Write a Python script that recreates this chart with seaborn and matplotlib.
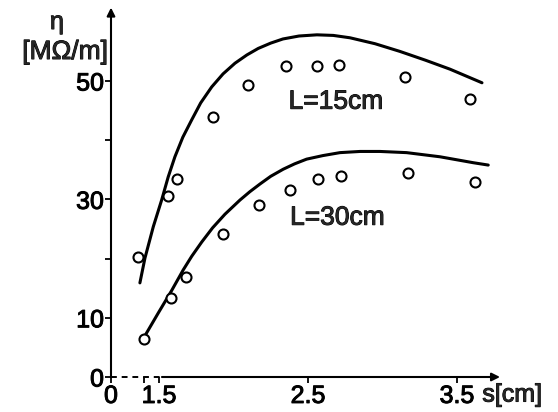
import numpy as np
import pandas as pd
import matplotlib.pyplot as plt
import matplotlib.patheffects as pe
import seaborn as sns

s_15 = [1.36, 1.56, 1.62, 1.86, 2.10, 2.35, 2.56, 2.71, 3.15, 3.59]
eta_15 = [20.2, 30.5, 33.4, 44.0, 49.4, 52.5, 52.5, 52.7, 50.7, 47.0]
s_30 = [1.40, 1.58, 1.68, 1.93, 2.17, 2.38, 2.57, 2.72, 3.17, 3.62]
eta_30 = [6.4, 13.3, 16.9, 24.1, 29.1, 31.6, 33.4, 34.0, 34.4, 33.0]

# calculated curves
curve_s_15 = [1.372, 1.406, 1.462, 1.518, 1.562, 1.607, 1.66, 1.719, 1.78, 1.854,
              1.93, 2.010, 2.09, 2.166, 2.25, 2.332, 2.44, 2.560, 2.67, 2.782,
              2.95, 3.117, 3.29, 3.453, 3.668]
curve_eta_15 = [15.9, 20.1, 25.4, 29.9, 33.8, 37.2, 40.5, 43.4, 46.3, 49.0,
                51.2, 53.0, 54.4, 55.5, 56.4, 57.1, 57.6, 57.8, 57.7, 57.3,
                56.3, 55.0, 53.5, 52.0, 49.7]
curve_s_30 = [1.395, 1.495, 1.585, 1.663, 1.72, 1.787, 1.86, 1.943, 2.044, 2.11,
              2.178, 2.25, 2.334, 2.41, 2.491, 2.60, 2.715, 2.85, 2.983, 3.162,
              3.386, 3.609, 3.710]
curve_eta_30 = [6.5, 10.8, 14.6, 18.1, 20.4, 22.8, 25.2, 27.5, 29.9, 31.3,
                32.6, 33.9, 35.1, 36.0, 36.8, 37.4, 37.9, 38.1, 38.1, 37.9,
                37.2, 36.2, 35.8]

x_ticks = [1.178, 1.4, 1.5, 2.5, 3.5]
x_labels = ['0', '', '1.5', '2.5', '3.5']
y_ticks = [0, 10, 20, 30, 40, 50]
y_labels = ['0', '10', '', '30', '', '50']

sns.set_style("white")
plt.rcParams['font.family'] = ['Liberation Sans', 'DejaVu Sans']

# slightly heavier text, like the printed original
thick = [pe.withStroke(linewidth=0.7, foreground='black')]

fig = plt.figure(figsize=(5.58, 4.12), dpi=100)
ax = fig.add_axes([111 / 558, 35 / 412, 389 / 558, 370 / 412])

for cs, ce in [(curve_s_15, curve_eta_15), (curve_s_30, curve_eta_30)]:
    sns.lineplot(x=cs, y=ce, ax=ax, color='black', lw=2.2, sort=False,
                 estimator=None)
for ms, me in [(s_15, eta_15), (s_30, eta_30)]:
    sns.scatterplot(x=ms, y=me, ax=ax, marker='o', s=52, facecolor='white',
                    edgecolor='black', linewidth=1.5, zorder=3)

ax.set_xlim(1.178, 3.789)
ax.set_ylim(0, 62.5)
for sp in ax.spines.values():
    sp.set_visible(False)

# axes drawn by hand: broken x axis, arrows
ax.plot([1.178, 1.52], [0, 0], color='black', lw=1.4, ls=(0, (3, 2.5)),
        clip_on=False)
ax.annotate('', xy=(3.789, 0), xytext=(1.52, 0),
            arrowprops=dict(arrowstyle='-|>', lw=1.5, color='black',
                            mutation_scale=12, shrinkA=0, shrinkB=0))
ax.annotate('', xy=(1.178, 62.4), xytext=(1.178, 0),
            arrowprops=dict(arrowstyle='-|>', lw=1.5, color='black',
                            mutation_scale=12, shrinkA=0, shrinkB=0))

ax.set_xticks(x_ticks)
ax.set_xticklabels(x_labels)
ax.set_yticks(y_ticks)
ax.set_yticklabels(y_labels)
ax.tick_params(direction='out', length=4, width=1.3, pad=1, labelsize=18,
               colors='black', bottom=True, left=True)
for lab in ax.get_xticklabels() + ax.get_yticklabels():
    lab.set_path_effects(thick)

ax.text(2.37, 46.5, 'L=15cm', ha='left', va='center', fontsize=19,
        path_effects=thick)
ax.text(2.38, 26.9, 'L=30cm', ha='left', va='center', fontsize=19,
        path_effects=thick)
ax.annotate('s[cm]', xy=(3.87, 0), xytext=(0, -4), textcoords='offset points',
            ha='center', va='top', fontsize=18, annotation_clip=False,
            path_effects=thick)

fig.text(57 / 558, 1 - 22 / 412, 'η', ha='center', va='center', fontsize=18,
         path_effects=thick)
fig.text(108 / 558, 1 - 52 / 412, '[MΩ/m]', ha='right', va='center',
         fontsize=19, path_effects=thick)

fig.savefig('out.png', dpi=100, facecolor='white')
